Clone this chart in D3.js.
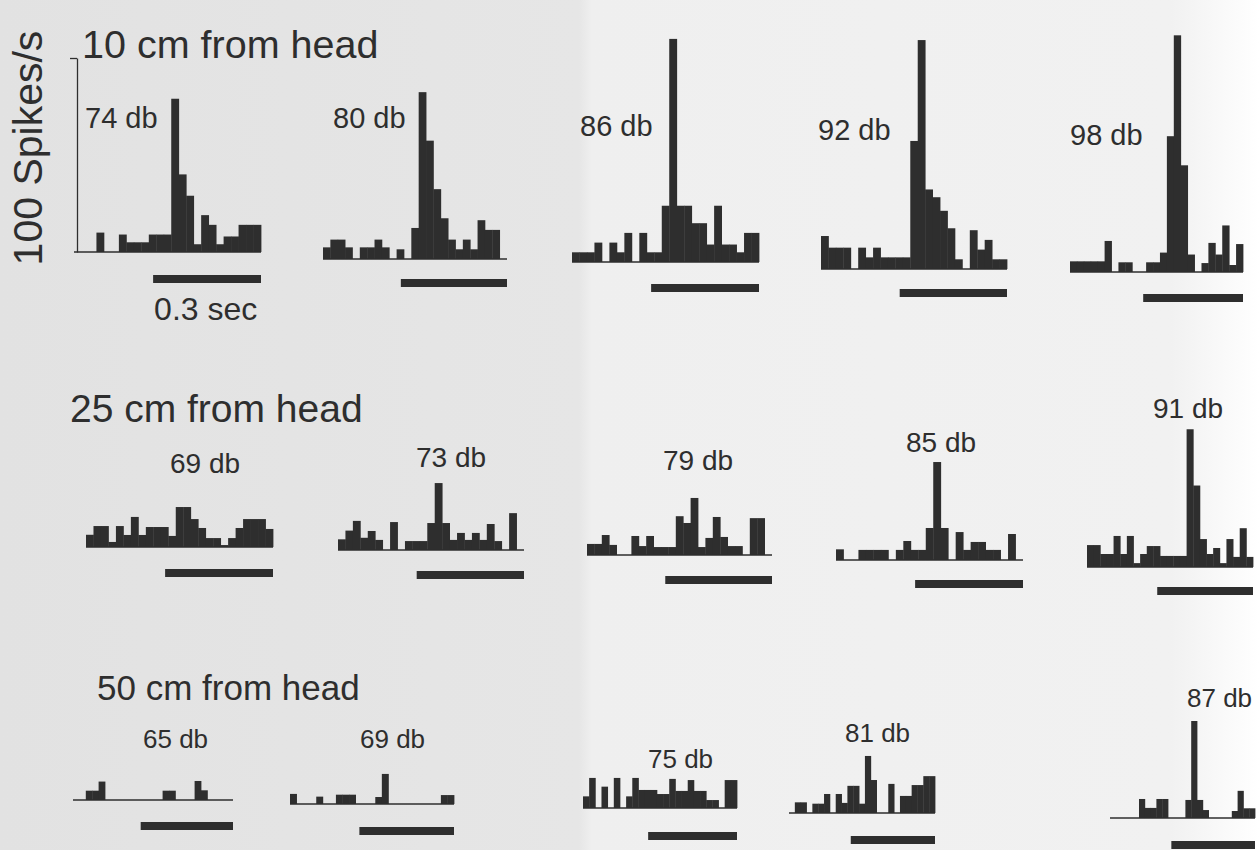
<!DOCTYPE html>
<html>
<head>
<meta charset="utf-8">
<script src="https://cdn.jsdelivr.net/npm/d3@7"></script>
<style>
  body { margin: 0; background: #e9e9e9; }
  text { font-family: "Liberation Sans", Arial, sans-serif; fill: #2e2e2e; }
</style>
</head>
<body>
<script>
// spike histograms, spikes/s per bin (25 bins of ~21 ms, window 0.52 s)
const rowTitles = ['10 cm from head', '25 cm from head', '50 cm from head'];
const dbLabels = [
  ['74 db', '80 db', '86 db', '92 db', '98 db'],
  ['69 db', '73 db', '79 db', '85 db', '91 db'],
  ['65 db', '69 db', '75 db', '81 db', '87 db']
];

const cm10_74 = [0,0,0,10,0,0,9,5,5,5,9,9,9,79,40,29,4,19,14,4,8,8,14,14,14];
const cm10_80 = [6,10,10,6,0,6,6,10,6,0,5,0,16,86,61,36,21,10,5,10,5,20,15,15,0];
const cm10_86 = [5,5,5,10,0,10,5,15,0,15,5,5,29,115,29,29,20,20,9,29,9,9,5,15,15];
const cm10_92 = [17,11,11,11,0,11,6,11,6,6,6,6,66,118,41,37,30,21,5,0,20,10,15,5,5];
const cm10_98 = [5.5,5.5,5.5,5.5,5.5,16,0,5,5,0,0,5,5,10,70,122,55,9,0,4.6,15,9,24,3.6,14.4];

const cm25_69 = [6.3,10.8,10.8,2.6,10.8,6.2,15.5,6.2,10.3,10.3,10.3,5.7,20.6,20.6,14.4,9.8,4.6,4.6,1,4.6,9.8,14.4,14.4,14.4,9.3];
const cm25_73 = [5.5,10,15,6.3,9.8,5.2,0,14.4,0,4.6,4.6,4.6,13.9,34.5,13.9,5.2,8.8,5.2,8.8,5.2,13.4,4.6,0,19,0];
const cm25_79 = [5.7,5.7,10.3,5.2,0,0,9.8,4.6,9.8,4.1,4.1,4.1,20,16.5,29.4,4.1,8.8,19.6,9.3,4.6,4.6,0,19,19,0];
const cm25_85 = [5.5,0,0,5.2,5.2,5.2,5.2,0,5.2,9.8,5.2,5.2,16.5,50.5,16.5,0,14.4,5.2,9.3,9.3,5.2,5.2,0,13.4,0];
const cm25_91 = [11.3,11.3,6.7,6.7,16,6.7,16,2,6.7,10.8,10.8,5.7,5.7,5.7,5.7,71,42,14.4,6.7,9.8,2,14.4,5.2,20,5.2];

const cm50_65 = [0,0,4.8,4.8,9.5,0,0,0,0,0,0,0,0,0,4.8,4.8,0,0,0,9.8,5,0,0,0,0];
const cm50_69 = [5.2,0,0,0,3.8,0,0,4.8,4.8,4.8,0,0,0,3.6,15.5,0,0,0,0,0,0,0,0,4.6,4.6];
const cm50_75 = [6,15.5,0,11,0,15.5,0,6,15.5,9.3,9.3,9.3,7.2,7.2,15,8.8,8.8,14.4,8.8,8.8,4.1,4.1,0,14.4,14.4];
const cm50_81 = [0,5.5,5.5,0,4.8,4.8,9.8,0,9.8,5.2,14,14,4.8,29.4,17,0,0,15,0,8.8,8.8,14.4,14.4,19,19];
const cm50_87 = [0,0,0,0,0,9.8,5.2,5.2,9.8,9.8,0,0,0,9.3,50,9.3,4.1,0,0,0,0,3.6,14,5,5];

const series = [
  [cm10_74, cm10_80, cm10_86, cm10_92, cm10_98],
  [cm25_69, cm25_73, cm25_79, cm25_85, cm25_91],
  [cm50_65, cm50_69, cm50_75, cm50_81, cm50_87]
];

const binSec = 0.0208;
const stimSec = [0.22, 0.52];   // 0.3 s bar at the end of each window

// where each panel sits on the page: histogram left/right, baseline, bar centre, label anchor
const layout = [
  [ {x0: 74, x1: 261, base: 252, bar: 279, lx: 85, ly: 128},
    {x0: 323, x1: 507, base: 259, bar: 283, lx: 333, ly: 128},
    {x0: 572, x1: 759, base: 262, bar: 288, lx: 580, ly: 136},
    {x0: 821, x1: 1007, base: 269, bar: 293, lx: 818, ly: 140},
    {x0: 1070, x1: 1243, base: 272, bar: 298, lx: 1070, ly: 145} ],
  [ {x0: 86, x1: 273, base: 547, bar: 573, lx: 170, ly: 473},
    {x0: 338, x1: 524, base: 550, bar: 575, lx: 416, ly: 467},
    {x0: 587, x1: 772, base: 555, bar: 580, lx: 663, ly: 470},
    {x0: 836, x1: 1023, base: 560, bar: 584, lx: 906, ly: 452},
    {x0: 1087, x1: 1253, base: 567, bar: 591, lx: 1153, ly: 418} ],
  [ {x0: 73, x1: 233, base: 800, bar: 826, lx: 143, ly: 748},
    {x0: 290, x1: 454, base: 804, bar: 831, lx: 360, ly: 748},
    {x0: 583, x1: 737, base: 808, bar: 836, lx: 648, ly: 768},
    {x0: 789, x1: 935, base: 813, bar: 840, lx: 845, ly: 742},
    {x0: 1110, x1: 1255, base: 818, bar: 845, lx: 1187, ly: 707} ]
];
const titlePos = [ {x: 82, y: 58, size: 39.5}, {x: 70, y: 422, size: 39}, {x: 97, y: 700, size: 35} ];
const labelSize = [29, 28, 26];

const W = 1259, H = 850;
const ink = '#2e2e2e';

const svg = d3.select('body')
  .append('svg')
  .attr('width', W)
  .attr('height', H);

// paper tone: greyer left page, lighter right, glare at the edge
const grad = svg.append('defs').append('linearGradient')
  .attr('id', 'paper').attr('x1', '0').attr('x2', '1').attr('y1', '0').attr('y2', '0');
grad.append('stop').attr('offset', '0').attr('stop-color', '#e2e2e2');
grad.append('stop').attr('offset', '0.46').attr('stop-color', '#e6e6e6');
grad.append('stop').attr('offset', '0.47').attr('stop-color', '#efefef');
grad.append('stop').attr('offset', '0.93').attr('stop-color', '#f1f1f1');
grad.append('stop').attr('offset', '1').attr('stop-color', '#ffffff');
svg.append('rect').attr('width', W).attr('height', H).attr('fill', 'url(#paper)');

const barH = 194;   // pixels for 100 spikes/s

series.forEach((row, r) => {
  row.forEach((vals, c) => {
    const p = layout[r][c];
    const x = d3.scaleLinear().domain([0, vals.length * binSec]).range([p.x0, p.x1]);
    const y = d3.scaleLinear().domain([0, 100]).range([p.base, p.base - barH]);
    const g = svg.append('g');

    g.selectAll('rect.bin')
      .data(vals)
      .enter()
      .append('rect')
      .attr('class', 'bin')
      .attr('x', (d, i) => x(i * binSec))
      .attr('width', x(binSec) - x(0) + 0.4)
      .attr('y', d => y(d))
      .attr('height', d => y(0) - y(d))
      .attr('fill', ink);

    // baseline
    g.append('line')
      .attr('x1', x(0)).attr('x2', x(vals.length * binSec))
      .attr('y1', p.base).attr('y2', p.base)
      .attr('stroke', ink).attr('stroke-width', 1.5);

    // 0.3 s bar
    g.append('rect')
      .attr('x', x(stimSec[0]))
      .attr('width', x(stimSec[1]) - x(stimSec[0]))
      .attr('y', p.bar - 4)
      .attr('height', 8)
      .attr('fill', ink);

    g.append('text')
      .attr('x', p.lx).attr('y', p.ly)
      .style('font-size', labelSize[r] + 'px')
      .text(dbLabels[r][c]);

    if (r === 0 && c === 0) {
      const yAxis = d3.axisLeft(y).tickValues([100]).tickFormat('').tickSize(7).tickSizeOuter(0);
      g.append('g')
        .attr('transform', `translate(${p.x0 + 3},0)`)
        .call(yAxis)
        .call(a => a.selectAll('path,line').attr('stroke', ink).attr('stroke-width', 1.3));
      g.append('text')
        .attr('x', x(stimSec[0]) + 1).attr('y', p.bar + 41)
        .style('font-size', '32px')
        .text('0.3 sec');
    }
  });
});

rowTitles.forEach((t, r) => {
  svg.append('text')
    .attr('x', titlePos[r].x).attr('y', titlePos[r].y)
    .style('font-size', titlePos[r].size + 'px')
    .text(t);
});

svg.append('text')
  .attr('transform', 'translate(42,148) rotate(-90)')
  .attr('text-anchor', 'middle')
  .style('font-size', '41px')
  .text('100 Spikes/s');
</script>
</body>
</html>
